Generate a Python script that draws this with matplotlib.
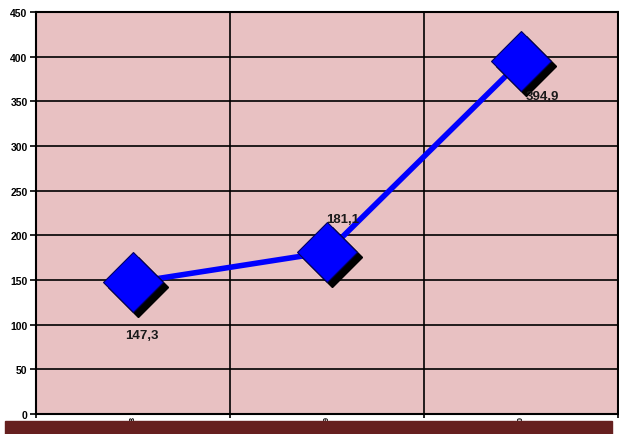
import matplotlib.pyplot as plt
import matplotlib.transforms as mtransforms
from matplotlib.patches import Rectangle

# Datos
anios = ['2008', '2009', '2010']
valores = [147.3, 181.1, 394.9]
etiquetas = ['147,3', '181,1', '394,9']
yticks = [0, 50, 100, 150, 200, 250, 300, 350, 400, 450]

plt.rcParams['font.family'] = ['Liberation Sans', 'DejaVu Sans']

fig = plt.figure(figsize=(6.19, 4.35), dpi=100)
ax = fig.add_axes([0.058, 0.046, 0.940, 0.924])
ax.set_facecolor('#e8c1c2')

x = list(range(len(anios)))

# Linea y marcadores con sombra
ax.plot(x, valores, color='#0000ff', lw=4, zorder=3)
sombra = mtransforms.offset_copy(ax.transData, fig=fig, x=5, y=-5, units='dots')
ax.plot(x, valores, ls='none', marker='D', ms=31, color='black',
        transform=sombra, zorder=4)
ax.plot(x, valores, ls='none', marker='D', ms=31, markerfacecolor='#0000ff',
        markeredgecolor='#000060', markeredgewidth=0.8, zorder=5)

# Etiquetas de datos
offsets = [(9, -53), (16, 33), (22, -35)]
for xi, v, lab, off in zip(x, valores, etiquetas, offsets):
    ax.annotate(lab, (xi, v), xytext=off, textcoords='offset pixels',
                ha='center', va='center', fontsize=9.5, fontweight='bold',
                color='#1a1a1a', zorder=6)

ax.set_xlim(-0.5, 2.5)
ax.set_ylim(0, 450)
ax.set_yticks(yticks)
ax.set_xticks([-0.5, 0.5, 1.5, 2.5])
ax.set_xticklabels([])
ax.set_xticks(x, minor=True)
ax.set_xticklabels(anios, minor=True, rotation=90, fontsize=5.5, fontweight='bold')
ax.tick_params(axis='x', which='minor', length=0, pad=1)
ax.tick_params(axis='x', which='major', length=3, width=1.2, direction='out')
ax.tick_params(axis='y', length=4, width=1.2, direction='out', labelsize=7.5, pad=2)
for t in ax.get_yticklabels():
    t.set_fontweight('bold')

ax.grid(True, which='major', color='black', lw=1.2)
ax.set_axisbelow(True)
for s in ax.spines.values():
    s.set_linewidth(1.5)

# Banda inferior
fig.patches.append(Rectangle((5 / 619, 0), 607 / 619, 13 / 435,
                             transform=fig.transFigure, color='#66201f',
                             zorder=10))

plt.savefig('out.png', dpi=100)
